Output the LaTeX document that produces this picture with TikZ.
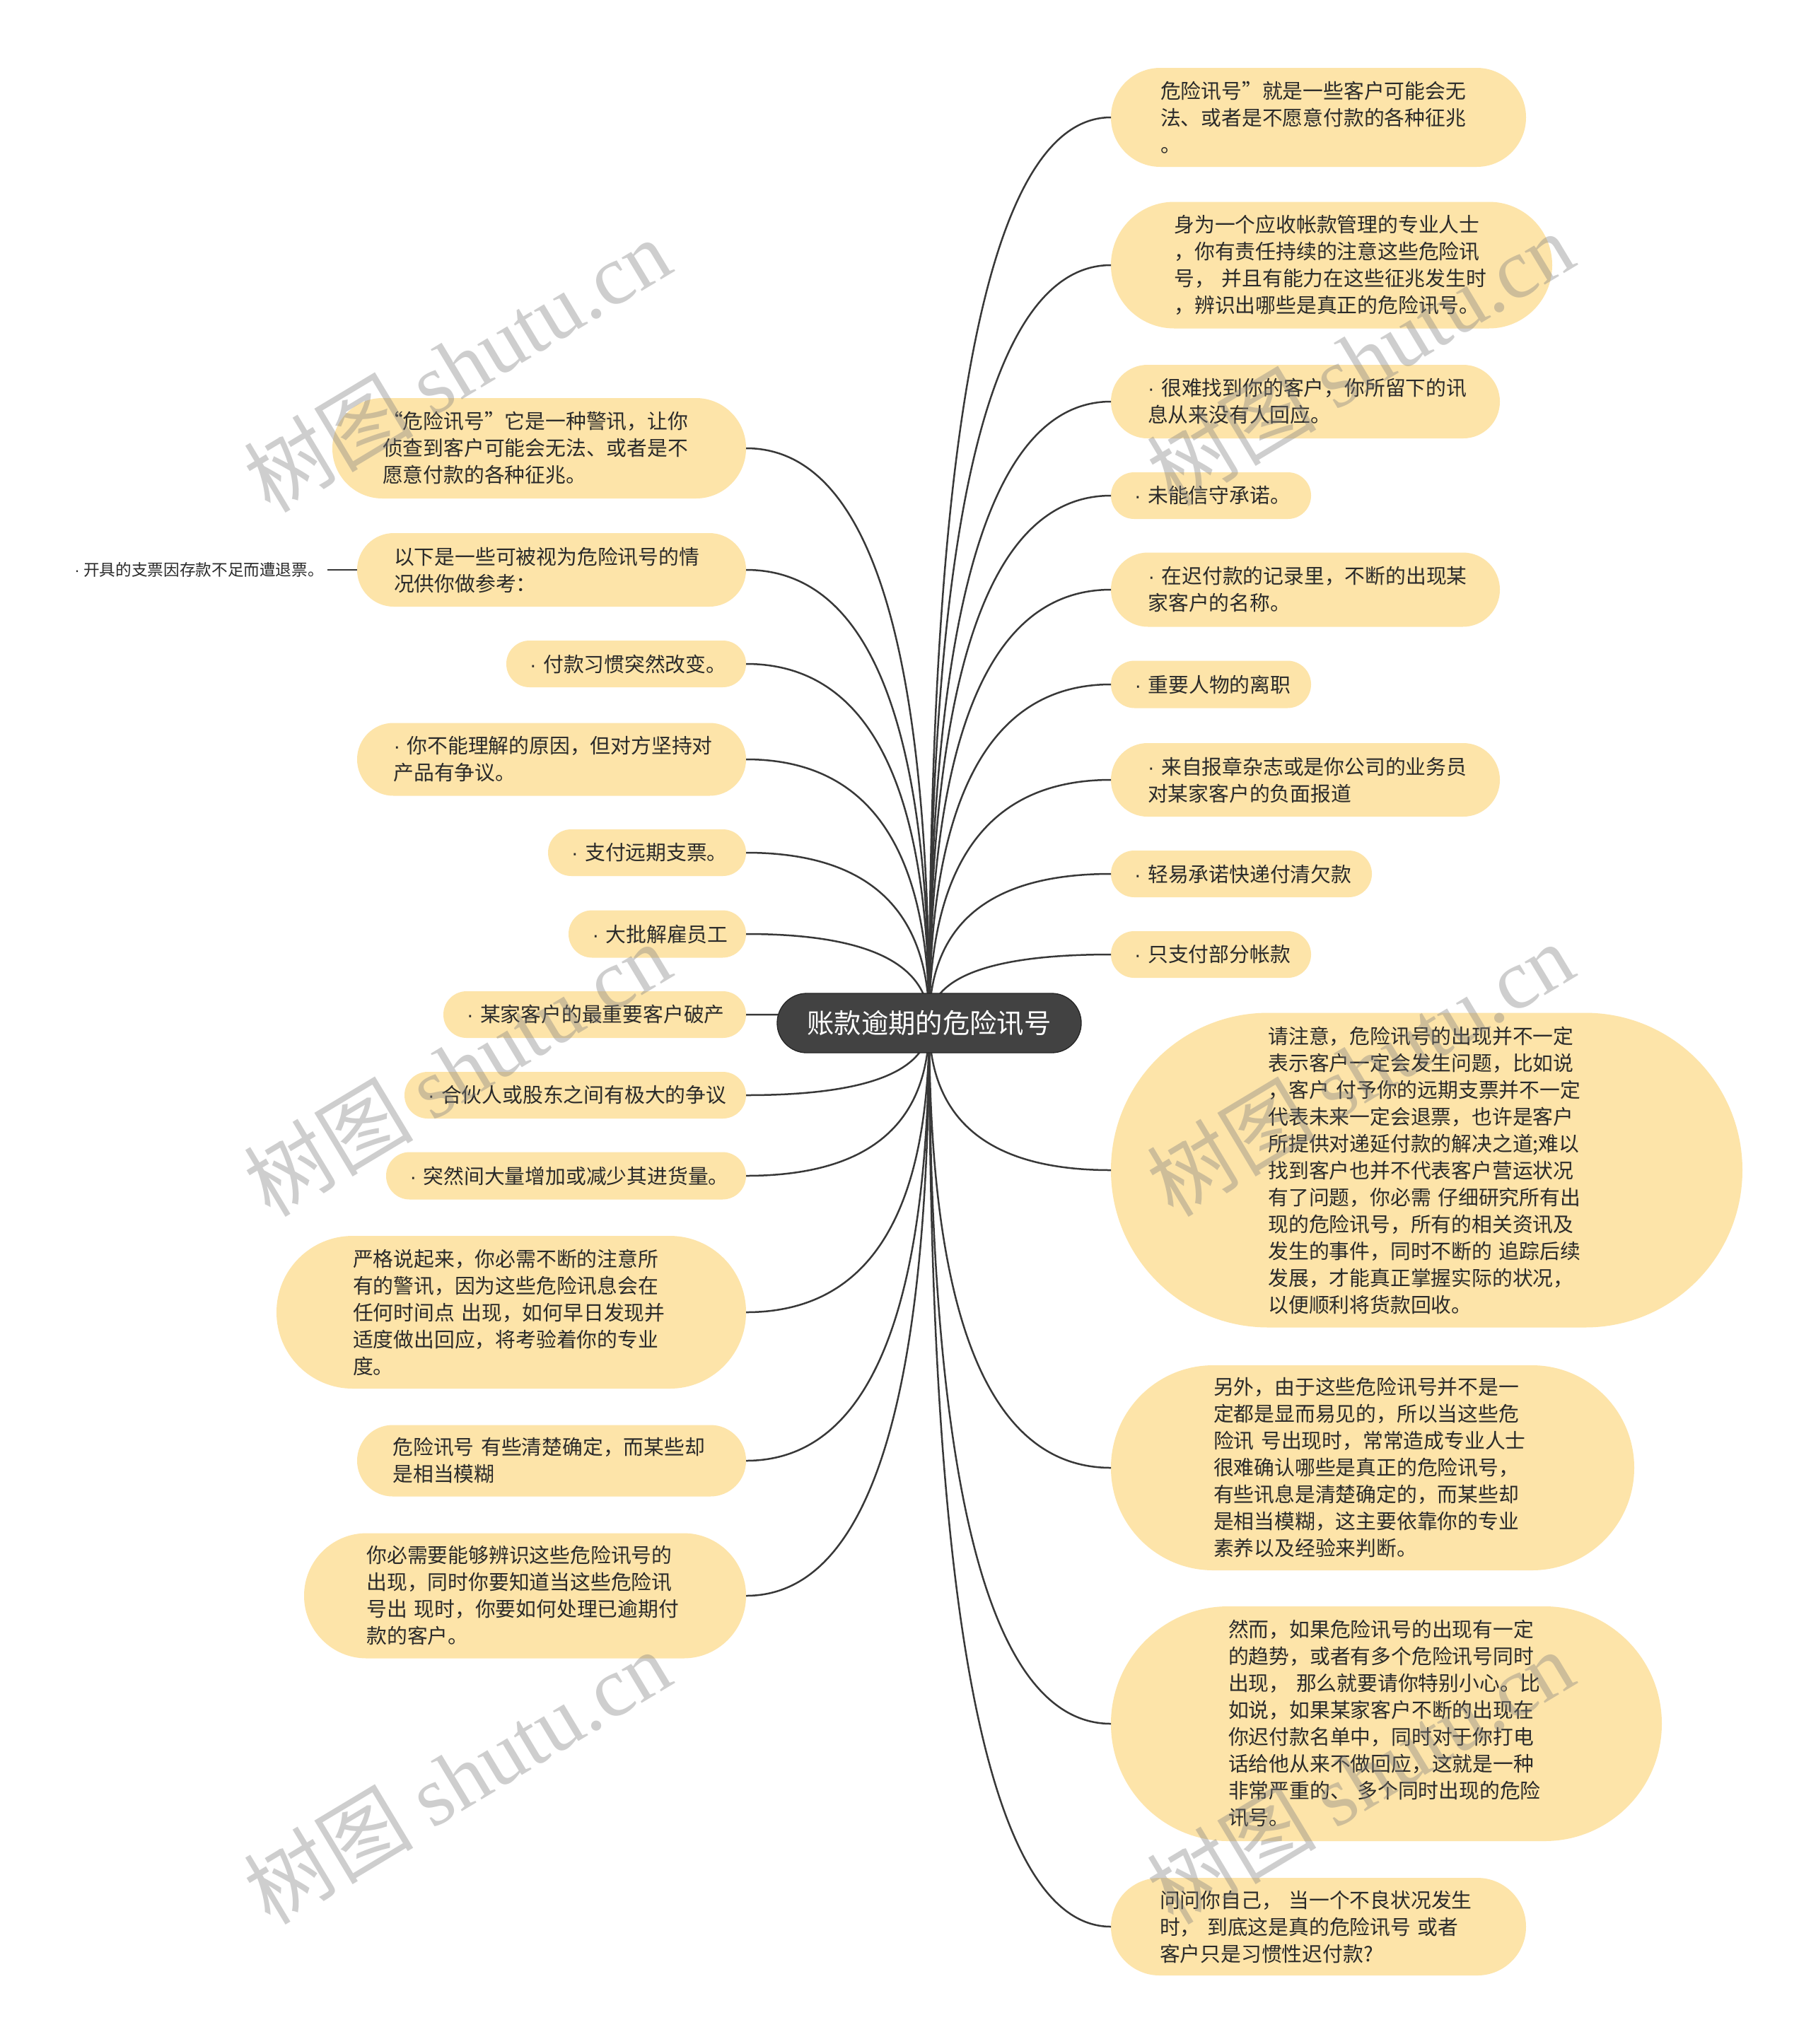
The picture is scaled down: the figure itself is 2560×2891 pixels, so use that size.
\documentclass[tikz,border=0pt]{standalone}
\usepackage{fontspec}
\usetikzlibrary{calc}
\newfontfamily\cjk{Noto Sans CJK SC}
\newfontfamily\wmserif{Liberation Serif}
\newfontfamily\latin{Liberation Sans}
\newcommand\bul{{\latin ·}~}
\definecolor{nodefill}{HTML}{FDE4A9}
\definecolor{textcol}{HTML}{2A2A2A}
\definecolor{rootfill}{HTML}{424242}
\definecolor{linecol}{HTML}{383838}
\tikzset{
  leaf/.style={rectangle, fill=nodefill, inner ysep=0pt, outer sep=0pt,
    align=left, text=textcol, font=\cjk\fontsize{8.64}{11.4}\selectfont},
  lb/.style 2 args={text width=#1, minimum height=#2, inner xsep=0.5*#2,
    rounded corners=0.5*#2-0.05pt},
  rootbox/.style={rectangle, fill=rootfill, draw=black!85, line width=0.4pt,
    inner ysep=0pt, outer sep=0pt, align=center, text=white,
    font=\cjk\fontsize{11.5}{14}\selectfont},
  subtext/.style={inner xsep=1.5pt, inner ysep=1pt, outer sep=0pt, text=textcol,
    font=\cjk\fontsize{6.8}{8}\selectfont},
  conn/.style={draw=linecol, line width=0.75pt},
  wm/.style={text=gray, opacity=0.38, font=\cjk\fontsize{36}{40}\selectfont, inner sep=0pt}
}
\newcommand\rbranch[1]{\draw[conn] (hub) .. controls ($(hub)!2/3!(hub |- #1.west)$) and ($(#1.west)!2/3!(hub |- #1.west)$) .. (#1.west);}
\newcommand\lbranch[1]{\draw[conn] (hub) .. controls ($(hub)!2/3!(hub |- #1.east)$) and ($(#1.east)!2/3!(hub |- #1.east)$) .. (#1.east);}
\begin{document}
\begin{tikzpicture}[x=0.3pt,y=-0.3pt]
\fill[white] (0,0) rectangle (2560,2891);
\useasboundingbox (0,0) rectangle (2560,2891);

% right nodes
\node[leaf, lb={134.1pt}{42pt}, anchor=west] (R1) at (1571,166) {危险讯号”就是一些客户可能会无\\法、或者是不愿意付款的各种征兆\\。};
\node[leaf, lb={133.5pt}{53.7pt}, anchor=west] (R2) at (1571,375) {身为一个应收帐款管理的专业人士\\，你有责任持续的注意这些危险讯\\号，~并且有能力在这些征兆发生时\\，辨识出哪些是真正的危险讯号。};
\node[leaf, lb={133.8pt}{31.2pt}, anchor=west] (R3) at (1571,568) {\bul 很难找到你的客户，你所留下的讯\\息从来没有人回应。};
\node[leaf, lb={65.1pt}{19.8pt}, anchor=west] (R4) at (1571,701) {\bul 未能信守承诺。};
\node[leaf, lb={133.5pt}{31.5pt}, anchor=west] (R5) at (1571,834) {\bul 在迟付款的记录里，不断的出现某\\家客户的名称。};
\node[leaf, lb={64.8pt}{20.1pt}, anchor=west] (R6) at (1571,968) {\bul 重要人物的离职};
\node[leaf, lb={133.8pt}{31.2pt}, anchor=west] (R7) at (1571,1103) {\bul 来自报章杂志或是你公司的业务员\\对某家客户的负面报道};
\node[leaf, lb={90.9pt}{19.8pt}, anchor=west] (R8) at (1571,1236) {\bul 轻易承诺快递付清欠款};
\node[leaf, lb={65.1pt}{19.8pt}, anchor=west] (R9) at (1571,1350) {\bul 只支付部分帐款};
\node[leaf, lb={134.4pt}{133.5pt}, anchor=west] (R10) at (1571,1655) {请注意，危险讯号的出现并不一定\\表示客户一定会发生问题，比如说\\，客户~付予你的远期支票并不一定\\代表未来一定会退票，也许是客户\\所提供对递延付款的解决之道;难以\\找到客户也并不代表客户营运状况\\有了问题，你必需~仔细研究所有出\\现的危险讯号，所有的相关资讯及\\发生的事件，同时不断的~追踪后续\\发展，才能真正掌握实际的状况，\\以便顺利将货款回收。};
\node[leaf, lb={135pt}{87pt}, anchor=west] (R11) at (1571,2076) {另外，由于这些危险讯号并不是一\\定都是显而易见的，所以当这些危\\险讯~号出现时，常常造成专业人士\\很难确认哪些是真正的危险讯号，\\有些讯息是清楚确定的，而某些却\\是相当模糊，这主要依靠你的专业\\素养以及经验来判断。};
\node[leaf, lb={134.1pt}{99.6pt}, anchor=west] (R12) at (1571,2438) {然而，如果危险讯号的出现有一定\\的趋势，或者有多个危险讯号同时\\出现，~那么就要请你特别小心。比\\如说，如果某家客户不断的出现在\\你迟付款名单中，同时对于你打电\\话给他从来不做回应，这就是一种\\非常严重的、~多个同时出现的危险\\讯号。};
\node[leaf, lb={134.7pt}{41.4pt}, anchor=west] (R13) at (1571,2725) {问问你自己，~当一个不良状况发生\\时，~到底这是真的危险讯号~或者\\客户只是习惯性迟付款?};

% left nodes
\node[leaf, lb={132.9pt}{42.6pt}, anchor=east] (L1) at (1055,634) {“危险讯号”它是一种警讯，让你\\侦查到客户可能会无法、或者是不\\愿意付款的各种征兆。};
\node[leaf, lb={133.8pt}{31.2pt}, anchor=east] (L2) at (1055,806) {以下是一些可被视为危险讯号的情\\况供你做参考：};
\node[leaf, lb={81.9pt}{19.8pt}, anchor=east] (L3) at (1055,939) {\bul 付款习惯突然改变。};
\node[leaf, lb={134.1pt}{30.9pt}, anchor=east] (L4) at (1055,1074) {\bul 你不能理解的原因，但对方坚持对\\产品有争议。};
\node[leaf, lb={64.2pt}{19.8pt}, anchor=east] (L5) at (1055,1206) {\bul 支付远期支票。};
\node[leaf, lb={55.2pt}{20.1pt}, anchor=east] (L6) at (1055,1321) {\bul 大批解雇员工};
\node[leaf, lb={108.6pt}{19.8pt}, anchor=east] (L7) at (1055,1435) {\bul 某家客户的最重要客户破产};
\node[leaf, lb={125.1pt}{19.8pt}, anchor=east] (L8) at (1055,1549) {\bul 合伙人或股东之间有极大的争议};
\node[leaf, lb={132.6pt}{20.1pt}, anchor=east] (L9) at (1055,1663) {\bul 突然间大量增加或减少其进货量。};
\node[leaf, lb={134.4pt}{64.8pt}, anchor=east] (L10) at (1055,1856) {严格说起来，你必需不断的注意所\\有的警讯，因为这些危险讯息会在\\任何时间点~出现，如何早日发现并\\适度做出回应，将考验着你的专业\\度。};
\node[leaf, lb={134.7pt}{30.3pt}, anchor=east] (L11) at (1055,2066) {危险讯号~有些清楚确定，而某些却\\是相当模糊};
\node[leaf, lb={134.4pt}{53.1pt}, anchor=east] (L12) at (1055,2257) {你必需要能够辨识这些危险讯号的\\出现，同时你要知道当这些危险讯\\号出~现时，你要如何处理已逾期付\\款的客户。};

\node[subtext, anchor=east] (S1) at (463,806) {\bul 开具的支票因存款不足而遭退票。};
\draw[conn] (L2.west) -- (S1.east);

% connectors
\coordinate (hub) at (1314,1447);
\foreach \n in {R1,R2,R3,R4,R5,R6,R7,R8,R9,R10,R11,R12,R13} {\rbranch{\n}}
\foreach \n in {L1,L2,L3,L4,L5,L6,L7,L8,L9,L10,L11,L12} {\lbranch{\n}}

% root
\node[rootbox, text width=103.8pt, minimum height=25.2pt, inner xsep=12.6pt, rounded corners=12.55pt] (root) at (hub) {账款逾期的危险讯号};

% watermarks
\foreach \p/\q in {646/516, 1923/507, 646/1512, 1923/1512, 646/2513, 1923/2513} {
  \node[wm, rotate=31] at (\p,\q) {树图~{\wmserif shutu.cn}};
}
\end{tikzpicture}
\end{document}
